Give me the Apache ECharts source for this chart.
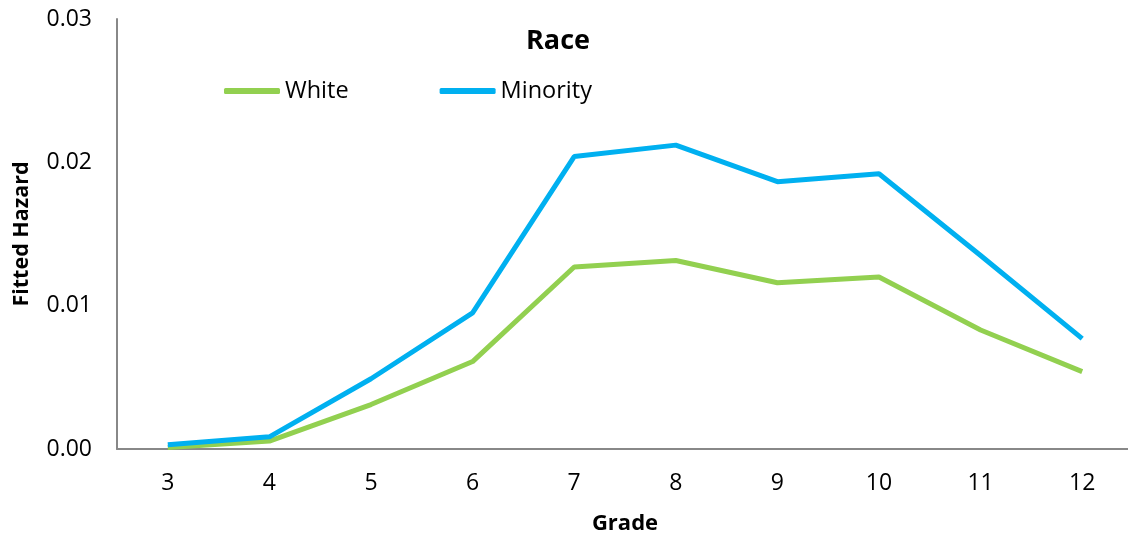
<!DOCTYPE html>
<html><head><meta charset="utf-8">
<script src="https://cdn.jsdelivr.net/npm/echarts@6/dist/echarts.min.js"></script>
<style>html,body{margin:0;padding:0;background:#fff}#c{width:1128px;height:538px}</style>
</head><body><div id="c"></div>
<script>
const grades = ['3','4','5','6','7','8','9','10','11','12'];
const white = [0.0001, 0.00055, 0.0031, 0.0061, 0.0127, 0.01315, 0.0116, 0.0120, 0.0083, 0.0054];
const minority = [0.0003, 0.00085, 0.0049, 0.0095, 0.0204, 0.0212, 0.01865, 0.0192, 0.0135, 0.0077];
const yTicks = [0, 0.01, 0.02, 0.03];
const FONT = '"Open Sans", "Liberation Sans", sans-serif';
const chart = echarts.init(document.getElementById('c'));
chart.setOption({
  animation: false,
  textStyle: {fontFamily: FONT},
  title: {text: 'Race', left: 553, top: 23, textAlign: 'center',
    textStyle: {fontFamily: FONT, fontSize: 27, fontWeight: 'bold', color: '#000'}},
  legend: {left: 219, top: 74, itemWidth: 56, itemHeight: 6, itemGap: 91, icon: 'roundRect',
    textStyle: {fontFamily: FONT, fontSize: 23.5, color: '#000'},
    data: ['White', 'Minority']},
  grid: {left: 117, top: 19, width: 1016, height: 430, containLabel: false, outerBoundsMode: 'none'},
  xAxis: {type: 'category', data: grades, boundaryGap: true,
    name: 'Grade', nameLocation: 'middle', nameGap: 64,
    nameTextStyle: {fontFamily: FONT, fontSize: 22, fontWeight: 'bold', color: '#000'},
    axisLine: {lineStyle: {color: '#888', width: 2}}, axisTick: {show: false},
    axisLabel: {fontFamily: FONT, fontSize: 23, color: '#000', margin: 23}},
  yAxis: {type: 'value', min: 0, max: 0.03, interval: 0.01,
    name: 'Fitted Hazard', nameLocation: 'middle', nameGap: 84, nameRotate: 90,
    nameTextStyle: {fontFamily: FONT, fontSize: 21.5, fontWeight: 'bold', color: '#000'},
    axisLine: {show: true, lineStyle: {color: '#888', width: 2}}, axisTick: {show: false},
    splitLine: {show: false},
    axisLabel: {fontFamily: FONT, fontSize: 23, color: '#000', margin: 25,
      formatter: v => yTicks.includes(+v.toFixed(2)) ? v.toFixed(2) : ''}},
  series: [
    {name: 'White', type: 'line', data: white, symbol: 'none', color: '#92D050',
      lineStyle: {width: 5, color: '#92D050'}},
    {name: 'Minority', type: 'line', data: minority, symbol: 'none', color: '#00B0F0',
      lineStyle: {width: 5, color: '#00B0F0'}}
  ]
});
</script></body></html>
